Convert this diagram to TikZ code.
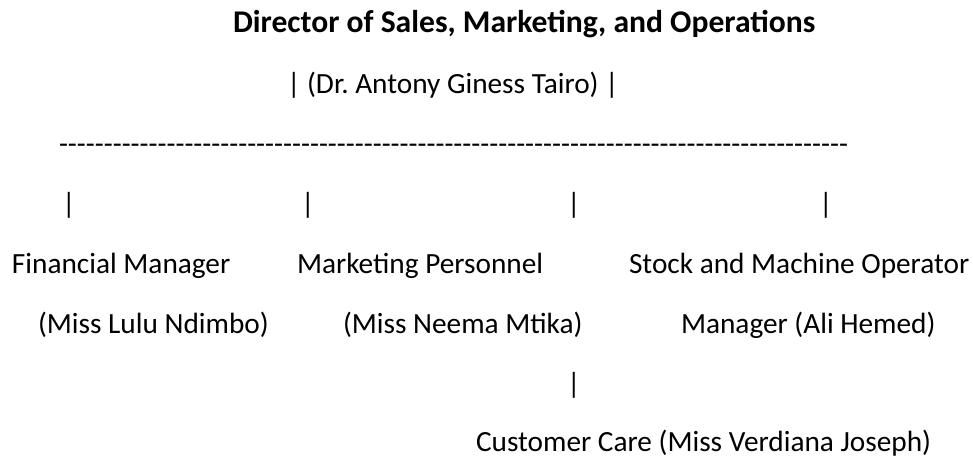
\documentclass[tikz,border=0pt]{standalone}
\usepackage{fontspec}
\setmainfont{Carlito}
\usepackage{tikz}
\usetikzlibrary{positioning}
\newcommand{\orgfont}{\fontsize{29.3}{35}\selectfont}
\newcommand{\headfont}{\fontsize{31.6}{38}\selectfont\bfseries}
\frenchspacing

\begin{document}
\begin{tikzpicture}[
  x=1pt, y=-1pt,
  every node/.style={font=\orgfont, anchor=base west, inner sep=0pt, outer sep=0pt},
  head/.style={font=\headfont}
]
  \useasboundingbox (0,0) rectangle (973,458);

  \node[head] (director) at (233,32) {Director of Sales, Marketing, and Operations};
  \node (directorname) at (287,93) {| (Dr. Antony Giness Tairo) |};

  % row of hyphens across the branches
  \node (branchline) at (59,153) {\foreach \i in {1,...,88}{-}};

  % one bar per branch
  \foreach \x/\name in {62/barfin, 301/barmkt, 567/barmid, 819/barstock}
    \node (\name) at (\x,213) {|};

  \node (finance) at (12,273) {Financial Manager};
  \node (financename) at (38,333) {(Miss Lulu Ndimbo)};

  \node (marketing) at (297,273) {Marketing Personnel};
  \node (marketingname) at (343,333) {(Miss Neema Mtika)};

  \node (stock) at (629,273) {Stock and Machine Operator};
  \node (stockname) at (681,333) {Manager (Ali Hemed)};

  \node (barcare) at (567,393) {|};
  \node (care) at (476,451) {Customer Care (Miss Verdiana Joseph)};
\end{tikzpicture}
\end{document}
